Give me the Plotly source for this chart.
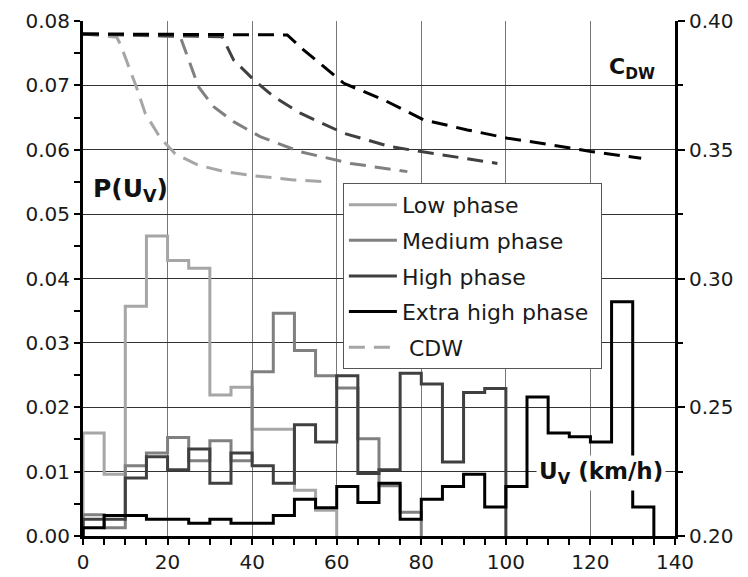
import plotly.graph_objects as go

# Speed-distribution histograms per WLTP phase (bin width 5 km/h)
bin_width = 5
p_low = [0.0160, 0.0096, 0.0357, 0.0466, 0.0428, 0.0416, 0.0219, 0.0231,
         0.0166, 0.0166, 0.0071, 0.0040]
p_medium = [0.0033, 0.0013, 0.0109, 0.0129, 0.0153, 0.0117, 0.0148, 0.0117,
            0.0255, 0.0346, 0.0288, 0.0249, 0.0230, 0.0151, 0.0078, 0.0037]
p_high = [0.0026, 0.0026, 0.0090, 0.0123, 0.0103, 0.0135, 0.0082, 0.0129,
          0.0109, 0.0082, 0.0173, 0.0146, 0.0249, 0.0097, 0.0103, 0.0253,
          0.0236, 0.0115, 0.0223, 0.0229]
p_extra = [0.0013, 0.0032, 0.0032, 0.0026, 0.0026, 0.0020, 0.0026, 0.0020,
           0.0020, 0.0032, 0.0057, 0.0044, 0.0077, 0.0052, 0.0082, 0.0026,
           0.0057, 0.0077, 0.0096, 0.0045, 0.0077, 0.0216, 0.0160, 0.0154,
           0.0146, 0.0364, 0.0045]

# Drag coefficient C_DW versus speed for each phase
cdw_low_u = [0, 8.0, 8.9, 10.7, 12.6, 14.7, 18.2, 21.8, 27.1, 33.4, 40.5, 49.8, 57.0]
cdw_low_c = [0.395, 0.3937, 0.3907, 0.3826, 0.3745, 0.3642, 0.3548, 0.3484,
             0.3441, 0.3415, 0.3399, 0.3383, 0.3376]
cdw_medium_u = [0, 23.0, 25.0, 27.3, 30.9, 35.6, 41.9, 51.4, 63.3, 76.7]
cdw_medium_c = [0.395, 0.3939, 0.3849, 0.3745, 0.3667, 0.3609, 0.3551, 0.3492,
                0.3447, 0.3415]
cdw_high_u = [0, 32.9, 35.6, 40.4, 45.1, 51.4, 61.7, 72.7, 79.9, 98.0]
cdw_high_c = [0.395, 0.3939, 0.3849, 0.3771, 0.3706, 0.3642, 0.3564, 0.3512,
              0.3493, 0.3447]
cdw_extra_u = [0, 48.3, 52.0, 61.7, 71.2, 80.6, 90.9, 100.4, 110.7, 120.1, 132.0]
cdw_extra_c = [0.395, 0.3946, 0.3890, 0.3758, 0.3693, 0.3616, 0.3577, 0.3545,
               0.3519, 0.3493, 0.3467]

x_ticks = [0, 20, 40, 60, 80, 100, 120, 140]

names = ["Low phase", "Medium phase", "High phase", "Extra high phase\u00a0"]
colors = ["#a6a6a6", "#808080", "#404040", "#000000"]
FONT = "DejaVu Sans"


def step_xy(values):
    """Bin edges and heights for an hv step outline that starts and ends at zero."""
    edges = [i * bin_width for i in range(len(values) + 1)]
    xs = [0] + edges
    ys = [0] + list(values) + [0]
    return xs, ys


fig = go.Figure()

for name, vals, col in zip(names, [p_low, p_medium, p_high, p_extra], colors):
    xs, ys = step_xy(vals)
    fig.add_trace(go.Scatter(
        x=xs, y=ys, mode="lines", name=name, legendgroup=name,
        line=dict(color=col, width=3, shape="hv"),
    ))

cdw_sets = [(cdw_low_u, cdw_low_c), (cdw_medium_u, cdw_medium_c),
            (cdw_high_u, cdw_high_c), (cdw_extra_u, cdw_extra_c)]
for i, ((u, c), col) in enumerate(zip(cdw_sets, colors)):
    fig.add_trace(go.Scatter(
        x=u, y=c, mode="lines", yaxis="y2",
        name=" CDW", legendgroup="cdw", showlegend=(i == 0),
        line=dict(color=col, width=3, dash="16px,9px"),
    ))

tick_font = dict(family=FONT, size=20, color="#1a1a1a")

fig.update_layout(
    width=748, height=577,
    margin=dict(l=83, r=73, t=21, b=41, autoexpand=False),
    paper_bgcolor="white", plot_bgcolor="white",
    font=dict(family=FONT, color="#1a1a1a"),
    xaxis=dict(
        range=[0, 140], tickvals=x_ticks, ticktext=[str(v) for v in x_ticks],
        automargin=False,
        showgrid=True, gridcolor="#777777", gridwidth=1, zeroline=False,
        showline=True, linecolor="black", linewidth=3,
        ticks="outside", ticklen=6, tickwidth=2, tickcolor="black",
        minor=dict(dtick=5, ticks="outside", ticklen=6, tickwidth=2,
                   tickcolor="black", showgrid=False),
        tickfont=tick_font,
    ),
    yaxis=dict(
        range=[0, 0.08], dtick=0.01, tick0=0, tickformat=".2f",
        automargin=False,
        showgrid=True, gridcolor="#333333", gridwidth=1, zeroline=False,
        showline=True, linecolor="black", linewidth=3,
        ticks="outside", ticklen=6, tickwidth=2, tickcolor="black",
        minor=dict(dtick=0.005, ticks="outside", ticklen=6, tickwidth=2,
                   tickcolor="black", showgrid=False),
        tickfont=tick_font,
    ),
    yaxis2=dict(
        range=[0.20, 0.40], dtick=0.05, tick0=0.20, tickformat=".2f",
        automargin=False,
        overlaying="y", side="right", showgrid=False, zeroline=False,
        showline=True, linecolor="black", linewidth=3,
        ticks="outside", ticklen=7, tickwidth=2, tickcolor="black",
        minor=dict(dtick=0.025, ticks="outside", ticklen=5, tickwidth=2,
                   tickcolor="black", showgrid=False),
        tickfont=tick_font,
    ),
    legend=dict(
        x=0.439, y=0.6855, xanchor="left", yanchor="top",
        bgcolor="white", bordercolor="#555555", borderwidth=1,
        font=dict(family=FONT, size=22, color="#1a1a1a"),
        tracegroupgap=4, itemwidth=48,
    ),
    showlegend=True,
)

fig.add_annotation(
    xref="paper", yref="paper", x=0.014, y=0.672, xanchor="left", yanchor="middle",
    text="<b>P(U<sub>V</sub>)</b>", showarrow=False,
    font=dict(family=FONT, size=25, color="#111111"),
)
fig.add_annotation(
    xref="paper", yref="paper", x=0.970, y=0.907, xanchor="right", yanchor="middle",
    text="<b>C<sub>DW</sub></b>", showarrow=False,
    font=dict(family=FONT, size=22, color="#111111"),
)
fig.add_annotation(
    xref="paper", yref="paper", x=0.985, y=0.122, xanchor="right", yanchor="middle",
    text="<b>U<sub>V</sub> (km/h)</b>", showarrow=False, bgcolor="white",
    borderpad=2,
    font=dict(family=FONT, size=23, color="#111111"),
)

fig.write_html("out.html")
